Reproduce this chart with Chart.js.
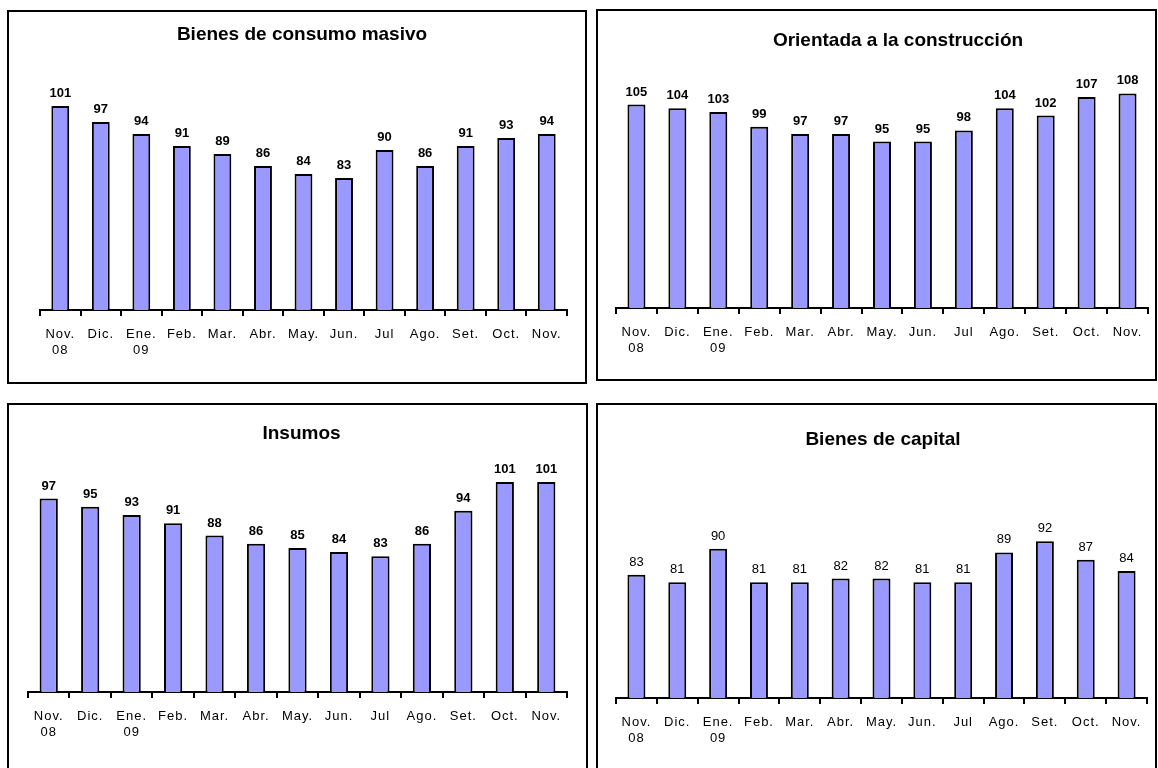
<!DOCTYPE html>
<html>
<head>
<meta charset="utf-8">
<script src="https://cdn.jsdelivr.net/npm/chart.js@4.4.1/dist/chart.umd.min.js"></script>
<style>
  html, body { margin: 0; padding: 0; background: #fff; }
  body { width: 1158px; height: 768px; position: relative; overflow: hidden; font-family: "Liberation Sans", Arial, sans-serif; }
  .frame { position: absolute; box-sizing: border-box; border: 2px solid #000; }
  .title { position: absolute; width: 600px; text-align: center; font-weight: bold; font-size: 19px; line-height: 19px; color: #000; white-space: nowrap; }
  canvas { position: absolute; }
</style>
</head>
<body>
<script>
// Month categories shared by the four panels
const months = [['Nov.', '08'], 'Dic.', ['Ene.', '09'], 'Feb.', 'Mar.', 'Abr.', 'May.', 'Jun.', 'Jul', 'Ago.', 'Set.', 'Oct.', 'Nov.'];

// Index values per sector
const consumoMasivo = [101, 97, 94, 91, 89, 86, 84, 83, 90, 86, 91, 93, 94];
const construccion  = [105, 104, 103, 99, 97, 97, 95, 95, 98, 104, 102, 107, 108];
const insumos       = [97, 95, 93, 91, 88, 86, 85, 84, 83, 86, 94, 101, 101];
const bienesCapital = [83, 81, 90, 81, 81, 82, 82, 81, 81, 89, 92, 87, 84];

// Panel titles
const titles = ['Bienes de consumo masivo', 'Orientada a la construcción', 'Insumos', 'Bienes de capital'];

// Value axis range
const yMin = 50;
const yMax = 110;

// Page layout of each panel: frame box, plot edges (page px), title anchor
const panels = [
  { values: consumoMasivo, title: titles[0], boldLabels: true,
    frame: [7, 10, 580, 374], plot: { x0: 40, x1: 567, base: 310, top: 70 }, titleAt: [302, 33.5] },
  { values: construccion, title: titles[1], boldLabels: true,
    frame: [596, 9, 561, 372], plot: { x0: 616, x1: 1148, base: 308, top: 86 }, titleAt: [898, 39] },
  { values: insumos, title: titles[2], boldLabels: true,
    frame: [7, 403, 581, 380], plot: { x0: 28, x1: 567, base: 692, top: 445 }, titleAt: [301.5, 432] },
  { values: bienesCapital, title: titles[3], boldLabels: false,
    frame: [596, 403, 561, 380], plot: { x0: 616, x1: 1147, base: 698, top: 474 }, titleAt: [883, 438] }
];

const FONT = '"Liberation Sans", Arial, sans-serif';

// Prints each bar's value above it
const valueLabels = {
  id: 'valueLabels',
  afterDatasetsDraw(chart, args, opts) {
    const ctx = chart.ctx;
    ctx.save();
    ctx.letterSpacing = '0px';
    ctx.font = (opts.bold ? 'bold ' : '') + '13px ' + FONT;
    ctx.fillStyle = '#000';
    ctx.textAlign = 'center';
    ctx.textBaseline = 'alphabetic';
    const meta = chart.getDatasetMeta(0);
    const vals = chart.data.datasets[0].data;
    meta.data.forEach((bar, i) => {
      ctx.fillText(String(vals[i]), bar.x, bar.y - 9);
    });
    ctx.restore();
  }
};

// Slightly spaced category text
const spacedTicks = {
  id: 'spacedTicks',
  beforeDraw(chart) { chart.ctx.letterSpacing = '1px'; }
};

panels.forEach(p => {
  const [fx, fy, fw, fh] = p.frame;
  const frame = document.createElement('div');
  frame.className = 'frame';
  Object.assign(frame.style, { left: fx + 'px', top: fy + 'px', width: fw + 'px', height: fh + 'px' });
  document.body.appendChild(frame);

  // canvas sits just inside the frame
  const cx = fx + 2, cy = fy + 2;
  const cw = fw - 4, ch = Math.min(fh - 4, 768 - cy);
  const canvas = document.createElement('canvas');
  canvas.width = cw; canvas.height = ch;
  Object.assign(canvas.style, { left: cx + 'px', top: cy + 'px', width: cw + 'px', height: ch + 'px' });
  document.body.appendChild(canvas);

  const t = document.createElement('div');
  t.className = 'title';
  t.textContent = p.title;
  t.style.left = (p.titleAt[0] - 300) + 'px';
  t.style.top = (p.titleAt[1] - 9.3) + 'px';
  document.body.appendChild(t);

  const padLeft = p.plot.x0 - cx;
  const padRight = cx + cw - p.plot.x1;
  const padTop = p.plot.top - cy;
  const axisHeight = cy + ch - p.plot.base;

  new Chart(canvas, {
    type: 'bar',
    data: {
      labels: months,
      datasets: [{
        data: p.values,
        backgroundColor: '#9999ff',
        borderColor: '#000',
        borderWidth: 2,
        borderSkipped: 'bottom',
        barPercentage: 0.44,
        categoryPercentage: 1
      }]
    },
    options: {
      responsive: false,
      animation: false,
      devicePixelRatio: 1,
      layout: { padding: { left: padLeft, right: padRight, top: padTop, bottom: 0 } },
      plugins: {
        legend: { display: false },
        tooltip: { enabled: false },
        title: { display: false },
        valueLabels: { bold: p.boldLabels }
      },
      scales: {
        x: {
          grid: { offset: true, drawOnChartArea: false, drawTicks: true, tickLength: 6, color: '#000', lineWidth: 2 },
          border: { display: true, color: '#000', width: 2 },
          ticks: { color: '#000', font: { family: FONT, size: 13, lineHeight: 1.23 }, padding: 10.5, maxRotation: 0, minRotation: 0, autoSkip: false },
          afterFit(scale) { scale.height = axisHeight; }
        },
        y: { display: false, min: yMin, max: yMax }
      }
    },
    plugins: [spacedTicks, valueLabels]
  });
});
</script>
</body>
</html>
